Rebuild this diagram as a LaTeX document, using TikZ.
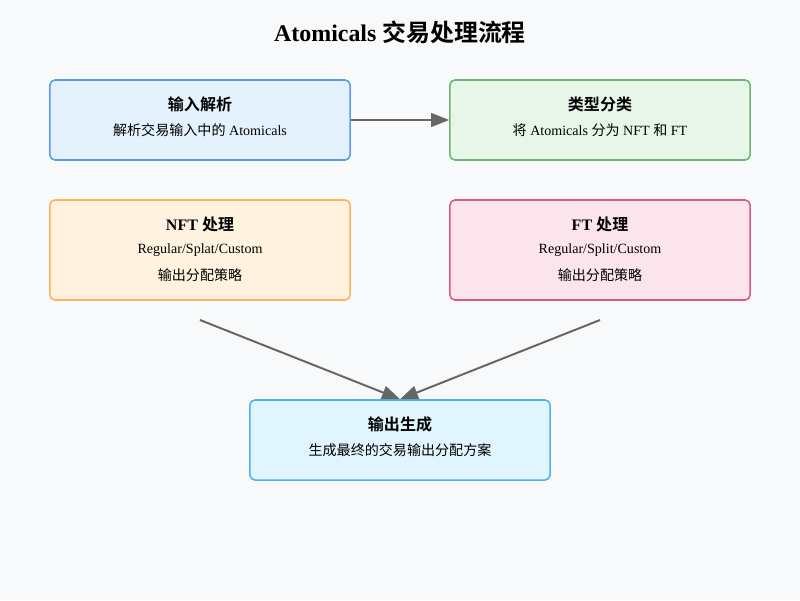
\documentclass[tikz,border=0pt]{standalone}
\usepackage{fontspec}
\setmainfont{Liberation Serif}
\newfontfamily\cjk{Noto Sans CJK SC}[BoldFont={Noto Sans CJK SC Bold}]
\newcommand{\zh}[1]{{\cjk #1}}
\usetikzlibrary{arrows.meta}

\definecolor{bgcol}{HTML}{F8F9FA}
\definecolor{arrowcol}{HTML}{666666}
\definecolor{inpfill}{HTML}{E3F2FD}
\definecolor{inpline}{HTML}{5B9BE0}
\definecolor{typfill}{HTML}{E8F5E9}
\definecolor{typline}{HTML}{70B474}
\definecolor{nftfill}{HTML}{FFF3E0}
\definecolor{nftline}{HTML}{FFB060}
\definecolor{ftfill}{HTML}{FCE4EC}
\definecolor{ftline}{HTML}{D65A8A}
\definecolor{outfill}{HTML}{E1F5FE}
\definecolor{outline}{HTML}{4FB3E8}

\begin{document}
\begin{tikzpicture}[x=0.025cm,y=-0.025cm,
    stagebox/.style={draw, line width=1.1pt, rounded corners=0.125cm,
      minimum width=7.5cm, inner sep=0pt},
    boxtitle/.style={font=\fontsize{11.4}{13}\selectfont\bfseries},
    boxtext/.style={font=\fontsize{10}{12}\selectfont},
    flow/.style={draw=arrowcol, line width=1.4pt,
      -{Triangle[length=0.45cm,width=0.34cm]}}]
		\fill[bgcol] (0,0) rectangle (800,600);
		\useasboundingbox (0,0) rectangle (800,600);

	    \node[font=\fontsize{17}{20}\selectfont\bfseries] (title) at (400,32) {Atomicals \zh{交易处理流程}};

		% first row
		\node[stagebox, fill=inpfill, draw=inpline, minimum height=2cm] (inp) at (200,120) {};
	    \node[boxtitle] (inpname) at (200,104) {\zh{输入解析}};
	    \node[boxtext] (inpdesc) at (200,130) {\zh{解析交易输入中的} Atomicals};

		\node[stagebox, fill=typfill, draw=typline, minimum height=2cm] (typ) at (600,120) {};
	    \node[boxtitle] (typname) at (600,104) {\zh{类型分类}};
	    \node[boxtext] (typdesc) at (600,130) {\zh{将} Atomicals \zh{分为} NFT \zh{和} FT};

		% second row
		\node[stagebox, fill=nftfill, draw=nftline, minimum height=2.5cm] (nft) at (200,250) {};
	    \node[boxtitle] (nftname) at (200,224) {NFT \zh{处理}};
	    \node[boxtext] (nftmode) at (200,250) {Regular/Splat/Custom};
	    \node[boxtext] (nftdesc) at (200,275) {\zh{输出分配策略}};

		\node[stagebox, fill=ftfill, draw=ftline, minimum height=2.5cm] (ft) at (600,250) {};
	    \node[boxtitle] (ftname) at (600,224) {FT \zh{处理}};
	    \node[boxtext] (ftmode) at (600,250) {Regular/Split/Custom};
	    \node[boxtext] (ftdesc) at (600,275) {\zh{输出分配策略}};

		% output
		\node[stagebox, fill=outfill, draw=outline, minimum height=2cm] (out) at (400,440) {};
	    \node[boxtitle] (outname) at (400,424) {\zh{输出生成}};
	    \node[boxtext] (outdesc) at (400,450) {\zh{生成最终的交易输出分配方案}};

		\coordinate (nftend) at (200,320);
		\coordinate (ftend) at (600,320);

		\draw[flow] (inp.east) -- (typ.west);
		\draw[flow] (nftend) -- (out.north);
		\draw[flow] (ftend) -- (out.north);
    \end{tikzpicture}
\end{document}
